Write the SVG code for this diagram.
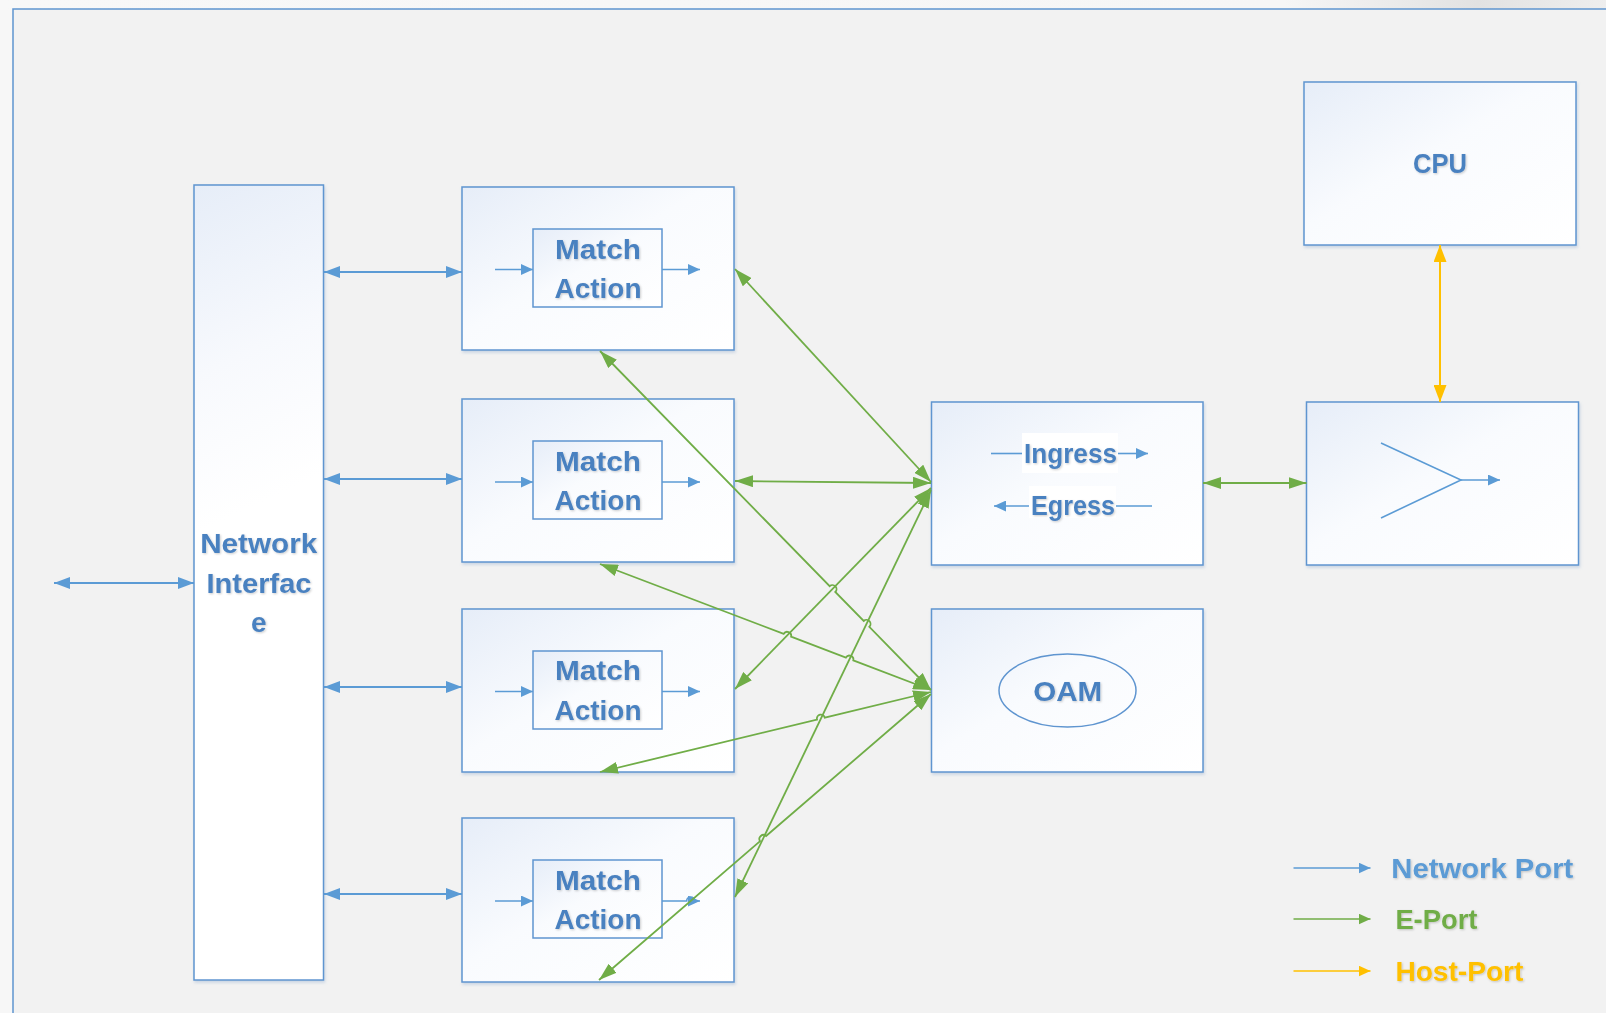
<svg xmlns="http://www.w3.org/2000/svg" width="1606" height="1013" viewBox="0 0 1606 1013">
<defs>
<linearGradient id="boxg" x1="0" y1="0" x2="1" y2="1">
<stop offset="0" stop-color="#e6edf8"/>
<stop offset="0.45" stop-color="#f9fbfe"/>
<stop offset="1" stop-color="#ffffff"/>
</linearGradient>
<linearGradient id="tallg" gradientUnits="userSpaceOnUse" x1="194" y1="185" x2="330" y2="470">
<stop offset="0" stop-color="#e6edf8"/>
<stop offset="0.55" stop-color="#f7f9fd"/>
<stop offset="1" stop-color="#ffffff"/>
</linearGradient>
<linearGradient id="topg" x1="0" y1="0" x2="1" y2="0">
<stop offset="0" stop-color="#f8f8f8"/>
<stop offset="0.8" stop-color="#f6f6f6"/>
<stop offset="0.92" stop-color="#e2e2e2"/>
<stop offset="1" stop-color="#eeeeee"/>
</linearGradient>
<filter id="sh" x="-10%" y="-10%" width="120%" height="120%">
<feDropShadow dx="1" dy="2" stdDeviation="1.5" flood-color="#7f9fc8" flood-opacity="0.35"/>
</filter>
<filter id="ts" x="-10%" y="-20%" width="120%" height="140%">
<feDropShadow dx="1" dy="1" stdDeviation="0.8" flood-color="#000" flood-opacity="0.2"/>
</filter>
<marker id="mb" markerUnits="userSpaceOnUse" markerWidth="16" markerHeight="12" refX="16" refY="6" orient="auto-start-reverse"><path d="M0,0 L16,6 L0,12 z" fill="#5b9bd5"/></marker>
<marker id="mbs" markerUnits="userSpaceOnUse" markerWidth="12" markerHeight="11" refX="12" refY="5.5" orient="auto-start-reverse"><path d="M0,0 L12,5.5 L0,11 z" fill="#5b9bd5"/></marker>
<marker id="mg" markerUnits="userSpaceOnUse" markerWidth="18" markerHeight="12" refX="18" refY="6" orient="auto-start-reverse"><path d="M0,0 L18,6 L0,12 z" fill="#70ad47"/></marker>
<marker id="mgs" markerUnits="userSpaceOnUse" markerWidth="12" markerHeight="11" refX="12" refY="5.5" orient="auto-start-reverse"><path d="M0,0 L12,5.5 L0,11 z" fill="#70ad47"/></marker>
<marker id="my" markerUnits="userSpaceOnUse" markerWidth="17" markerHeight="13" refX="17" refY="6.5" orient="auto-start-reverse"><path d="M0,0 L17,6.5 L0,13 z" fill="#ffc000"/></marker>
<marker id="mys" markerUnits="userSpaceOnUse" markerWidth="12" markerHeight="11" refX="12" refY="5.5" orient="auto-start-reverse"><path d="M0,0 L12,5.5 L0,11 z" fill="#ffc000"/></marker>
</defs>
<style>
.box{fill:url(#boxg);stroke:#5f95d0;stroke-width:1.5;filter:url(#sh)}
.inner{fill:url(#boxg);stroke:#5f95d0;stroke-width:1.5}
.t{font-family:"Liberation Sans",Arial,sans-serif;font-weight:bold;font-size:28px;fill:#4a81c0;text-anchor:middle;filter:url(#ts)}
.lt{font-family:"Liberation Sans",Arial,sans-serif;font-weight:bold;font-size:28px;filter:url(#ts)}
.bl{stroke:#5b9bd5;stroke-width:2;fill:none}
.bls{stroke:#5b9bd5;stroke-width:1.6;fill:none}
.gr{stroke:#70ad47;stroke-width:1.8;fill:none;marker-start:url(#mg);marker-end:url(#mg)}
.ye{stroke:#ffc000;stroke-width:2;fill:none}
</style>
<rect x="0" y="0" width="1606" height="1013" fill="#f7f7f7"/>
<rect x="0" y="0" width="1606" height="10" fill="url(#topg)"/>
<rect id="frame" x="13" y="9" width="1610" height="1020" fill="#f2f2f2" stroke="#5f95d0" stroke-width="1.5"/>

<g id="network-interface">
<rect class="box" x="194" y="185" width="129.5" height="795" style="fill:url(#tallg)"/>
<text class="t" x="258.7" y="553" textLength="117" lengthAdjust="spacingAndGlyphs">Network</text>
<text class="t" x="259" y="593" textLength="105" lengthAdjust="spacingAndGlyphs">Interfac</text>
<text class="t" x="258.7" y="632">e</text>
</g>

<g id="match-action-1">
<rect class="box" x="462" y="187" width="272" height="163"/>
<rect class="inner" x="533" y="229" width="129" height="78"/>
<text class="t" x="598" y="259" textLength="86" lengthAdjust="spacingAndGlyphs">Match</text>
<text class="t" x="598" y="298" textLength="87" lengthAdjust="spacingAndGlyphs">Action</text>
<line class="bls" x1="495" y1="269.5" x2="533" y2="269.5" marker-end="url(#mbs)"/>
<line class="bls" x1="662" y1="269.5" x2="700" y2="269.5" marker-end="url(#mbs)"/>
</g>

<g id="match-action-2">
<rect class="box" x="462" y="399" width="272" height="163"/>
<rect class="inner" x="533" y="441" width="129" height="78"/>
<text class="t" x="598" y="471" textLength="86" lengthAdjust="spacingAndGlyphs">Match</text>
<text class="t" x="598" y="510" textLength="87" lengthAdjust="spacingAndGlyphs">Action</text>
<line class="bls" x1="495" y1="482" x2="533" y2="482" marker-end="url(#mbs)"/>
<line class="bls" x1="662" y1="482" x2="700" y2="482" marker-end="url(#mbs)"/>
</g>

<g id="match-action-3">
<rect class="box" x="462" y="609" width="272" height="163"/>
<rect class="inner" x="533" y="651" width="129" height="78"/>
<text class="t" x="598" y="680" textLength="86" lengthAdjust="spacingAndGlyphs">Match</text>
<text class="t" x="598" y="720" textLength="87" lengthAdjust="spacingAndGlyphs">Action</text>
<line class="bls" x1="495" y1="691.5" x2="533" y2="691.5" marker-end="url(#mbs)"/>
<line class="bls" x1="662" y1="691.5" x2="700" y2="691.5" marker-end="url(#mbs)"/>
</g>

<g id="match-action-4">
<rect class="box" x="462" y="818" width="272" height="164"/>
<rect class="inner" x="533" y="860" width="129" height="78"/>
<text class="t" x="598" y="890" textLength="86" lengthAdjust="spacingAndGlyphs">Match</text>
<text class="t" x="598" y="929" textLength="87" lengthAdjust="spacingAndGlyphs">Action</text>
<line class="bls" x1="495" y1="901" x2="533" y2="901" marker-end="url(#mbs)"/>
<path class="bls" d="M662,901 L686.7,901 A4,4 0 0 1 694.7,901 L700,901" marker-end="url(#mbs)"/>
</g>

<g id="ingress-egress">
<rect class="box" x="931.5" y="402" width="271.5" height="163"/>
<line class="bls" x1="991" y1="453.5" x2="1022" y2="453.5"/>
<line class="bls" x1="1118" y1="453.5" x2="1148" y2="453.5" marker-end="url(#mbs)"/>
<rect x="1022" y="433" width="96" height="40" fill="#ffffff"/>
<text class="t" x="1070.5" y="463" textLength="93" lengthAdjust="spacingAndGlyphs">Ingress</text>
<line class="bls" x1="1029" y1="506" x2="994" y2="506" marker-end="url(#mbs)"/>
<line class="bls" x1="1116" y1="506" x2="1152" y2="506"/>
<rect x="1029" y="486" width="87" height="32" fill="#ffffff"/>
<text class="t" x="1073" y="515" textLength="84" lengthAdjust="spacingAndGlyphs">Egress</text>
</g>

<g id="oam">
<rect class="box" x="931.5" y="609" width="271.5" height="163"/>
<ellipse cx="1067.5" cy="690.5" rx="68.5" ry="36.5" fill="none" stroke="#5f95d0" stroke-width="1.5"/>
<text class="t" x="1067.7" y="700.5" textLength="69" lengthAdjust="spacingAndGlyphs">OAM</text>
</g>

<g id="switch">
<rect class="box" x="1306.5" y="402" width="272" height="163"/>
<path class="bls" d="M1381,443 L1461,480 L1381,518"/>
<line class="bls" x1="1461" y1="480" x2="1500" y2="480" marker-end="url(#mbs)"/>
</g>

<g id="cpu">
<rect class="box" x="1304" y="82" width="272" height="163"/>
<text class="t" x="1440" y="173" textLength="54" lengthAdjust="spacingAndGlyphs">CPU</text>
</g>

<g id="legend">
<line class="bls" x1="1293.5" y1="868" x2="1370.5" y2="868" marker-end="url(#mbs)"/>
<text class="lt" x="1391.3" y="878" fill="#5b9bd5" textLength="182" lengthAdjust="spacingAndGlyphs">Network Port</text>
<line stroke="#70ad47" stroke-width="1.6" x1="1293.5" y1="919" x2="1370.5" y2="919" marker-end="url(#mgs)"/>
<text class="lt" x="1395.4" y="929" fill="#70ad47" textLength="82" lengthAdjust="spacingAndGlyphs">E-Port</text>
<line stroke="#ffc000" stroke-width="1.6" x1="1293.5" y1="971" x2="1370.5" y2="971" marker-end="url(#mys)"/>
<text class="lt" x="1395.4" y="981" fill="#ffc000" textLength="128" lengthAdjust="spacingAndGlyphs">Host-Port</text>
</g>

<g id="connectors">
<line class="bl" x1="54" y1="583" x2="194" y2="583" marker-start="url(#mb)" marker-end="url(#mb)"/>
<line class="bl" x1="324" y1="272" x2="462" y2="272" marker-start="url(#mb)" marker-end="url(#mb)"/>
<line class="bl" x1="324" y1="479" x2="462" y2="479" marker-start="url(#mb)" marker-end="url(#mb)"/>
<line class="bl" x1="324" y1="687" x2="462" y2="687" marker-start="url(#mb)" marker-end="url(#mb)"/>
<line class="bl" x1="324" y1="894" x2="462" y2="894" marker-start="url(#mb)" marker-end="url(#mb)"/>
<line class="ye" x1="1440" y1="245" x2="1440" y2="402" marker-start="url(#my)" marker-end="url(#my)"/>
<line class="gr" x1="1203" y1="483" x2="1306.5" y2="483"/>
<line class="gr" x1="735" y1="269" x2="931" y2="482"/>
<line class="gr" x1="735" y1="481" x2="931" y2="483"/>
<line class="gr" x1="735" y1="689" x2="931" y2="488"/>
<line class="gr" x1="735" y1="897" x2="931" y2="490"/>
<path class="gr" d="M600,351 L829.7,586.2 A4,4 0 0 1 835.3,592 L863.7,621 A4,4 0 0 1 869.3,626.8 L931,690"/>
<path class="gr" d="M600,564 L783.7,633.9 A4,4 0 0 1 791.1,636.7 L845.9,657.6 A4,4 0 0 1 853.3,660.4 L931,690"/>
<path class="gr" d="M600,772 L817,719.5 A4,4 0 0 1 824.8,717.7 L931,692"/>
<path class="gr" d="M599,980 L760.1,841.2 A4,4 0 0 1 766.1,836 L931,694"/>
</g>
</svg>
